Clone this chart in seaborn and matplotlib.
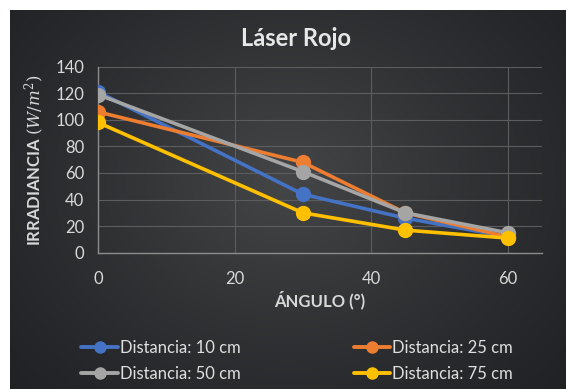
import numpy as np
import pandas as pd
import matplotlib
matplotlib.use("Agg")
import matplotlib.pyplot as plt
import seaborn as sns

# Measured irradiance for a red laser at several distances
angulos = [0, 30, 45, 60]
dist_10 = [121, 44, 26, 12]
dist_25 = [106, 68, 30, 12]
dist_50 = [119, 61, 30, 15]
dist_75 = [98, 30, 17, 11]
series_labels = ["Distancia: 10 cm", "Distancia: 25 cm", "Distancia: 50 cm", "Distancia: 75 cm"]
series_values = [dist_10, dist_25, dist_50, dist_75]
colors = ["#4472C4", "#ED7D31", "#A5A5A5", "#FFC000"]
x_ticks = [0, 20, 40, 60]
y_ticks = [0, 20, 40, 60, 80, 100, 120, 140]

rows = []
for lab, vals in zip(series_labels, series_values):
    for a, v in zip(angulos, vals):
        rows.append({"Ángulo": a, "Irradiancia": v, "Serie": lab})
df = pd.DataFrame(rows)

sns.set_theme(style="dark")
plt.rcParams["font.family"] = ["Lato", "DejaVu Sans"]
plt.rcParams["mathtext.fontset"] = "dejavuserif"

W, H = 569, 389
fig = plt.figure(figsize=(W / 100, H / 100), dpi=100, facecolor="white")

# Dark panel with a soft radial highlight
bg = fig.add_axes([10 / W, 0, 556 / W, 379 / H])
yy, xx = np.mgrid[0:1:200j, 0:1:300j]
r = np.sqrt(((xx - 0.5) / 0.75) ** 2 + ((yy - 0.45) / 0.9) ** 2)
shade = np.clip(1 - r, 0, 1)
c0 = np.array([0x1e, 0x20, 0x23]) / 255
c1 = np.array([0x45, 0x46, 0x48]) / 255
img = c0[None, None, :] + (c1 - c0)[None, None, :] * shade[..., None] ** 1.3
bg.imshow(img, aspect="auto", extent=[0, 1, 0, 1], interpolation="bilinear")
bg.set_axis_off()

ax = fig.add_axes([98 / W, 1 - 252.7 / H, (542 - 98) / W, (252.7 - 66.7) / H])
ax.patch.set_alpha(0)

sns.lineplot(data=df, x="Ángulo", y="Irradiancia", hue="Serie", palette=colors,
             hue_order=series_labels, marker="o", markersize=11, linewidth=2.6,
             markeredgewidth=0, ax=ax, legend=False, zorder=3)

ax.set_xlim(0, 65)
ax.set_ylim(0, 140)
ax.set_xticks(x_ticks)
ax.set_yticks(y_ticks)
ax.grid(True, color="#5c5d5f", linewidth=0.8)
ax.set_axisbelow(True)
for s in ["top", "right"]:
    ax.spines[s].set_visible(False)
for s in ["left", "bottom"]:
    ax.spines[s].set_visible(True)
    ax.spines[s].set_color("#8c8c8c")
    ax.spines[s].set_linewidth(1.0)
ax.tick_params(colors="#d9d9d9", labelsize=12, length=0, pad=10)
ax.tick_params(axis="x", pad=13)

ax.set_xlabel("ÁNGULO (°)", color="#d9d9d9", fontsize=12, fontweight="bold", labelpad=3)
ax.set_ylabel("IRRADIANCIA $\\mathit{(W/m^2)}$", color="#d9d9d9", fontsize=12,
              fontweight="bold", labelpad=6)

fig.text(296 / W, 1 - 38 / H, "Láser Rojo", color="#e8e8e8", fontsize=17,
         fontweight="bold", ha="center", va="center")

handles = [plt.Line2D([], [], color=c, marker="o", markersize=9, linewidth=2.8,
                      markeredgewidth=0) for c in colors]
order = [0, 2, 1, 3]
leg = fig.legend([handles[i] for i in order], [series_labels[i] for i in order],
                 ncol=2, loc="center", bbox_to_anchor=(297 / W, 1 - 361 / H),
                 frameon=False, fontsize=12, handlelength=2.2, handletextpad=0.1,
                 columnspacing=6.8, labelspacing=0.6, labelcolor="#e0e0e0")

fig.savefig("out.png", dpi=100, facecolor="white")
